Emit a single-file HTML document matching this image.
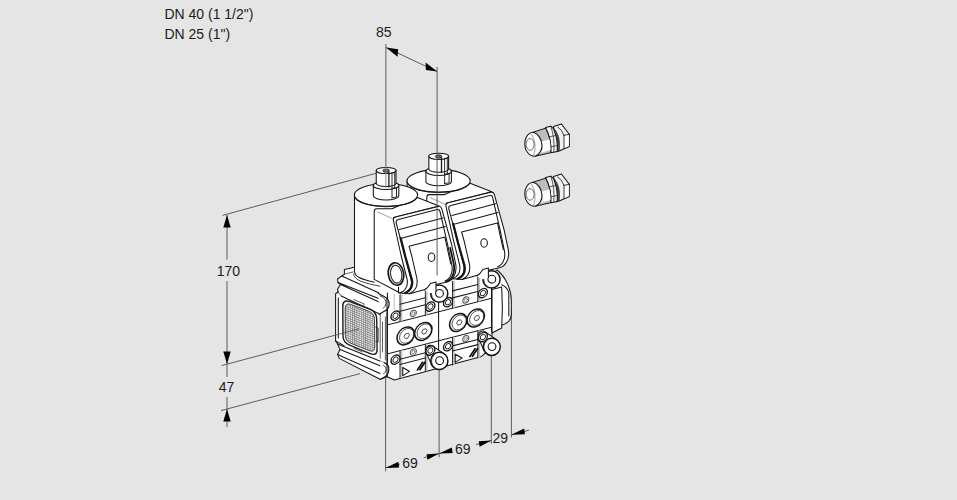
<!DOCTYPE html>
<html>
<head>
<meta charset="utf-8">
<title>Dimensioned drawing</title>
<style>
html,body{margin:0;padding:0;background:#e5e5e5;}
body{width:957px;height:500px;overflow:hidden;font-family:"Liberation Sans",sans-serif;}
svg{display:block;position:absolute;left:0;top:0;}
text{font-family:"Liberation Sans",sans-serif;font-size:14px;fill:#1c1c1c;}
.d{stroke:#5c5c5c;stroke-width:1;fill:none;}
.k{stroke:#151515;stroke-width:1.05;fill:none;stroke-linecap:round;stroke-linejoin:round;}
.w{stroke:#151515;stroke-width:1.05;fill:#fff;stroke-linejoin:round;}
.g{stroke:#777;stroke-width:0.7;fill:none;}
.a{fill:#000;stroke:none;}
</style>
</head>
<body>
<svg width="957" height="500" viewBox="0 0 957 500">
<rect x="0" y="0" width="957" height="500" fill="#e5e5e5"/>

<!-- ===== TEXT ===== -->
<text x="164.4" y="18.6">DN 40 (1 1/2")</text>
<text x="164.4" y="38.8">DN 25 (1")</text>
<text x="376" y="36.8">85</text>
<text x="216.8" y="275.9">170</text>
<text x="218.8" y="391.8">47</text>
<text x="402.2" y="467.6">69</text>
<text x="454.9" y="453.8">69</text>
<text x="492.5" y="442.9">29</text>

<!-- ===== DIMENSION LINES (behind) ===== -->
<g class="d" id="dims">
<line x1="385.9" y1="44" x2="385.9" y2="168"/>
<line x1="386" y1="47.5" x2="437" y2="71.5"/>
<line x1="222.6" y1="215.4" x2="376" y2="173.3"/>
<line x1="227" y1="215" x2="227" y2="259.6"/>
<line x1="227" y1="281" x2="227" y2="377"/>
<line x1="227" y1="397" x2="227" y2="427"/>
<line x1="221.6" y1="365.6" x2="335.2" y2="335.2"/>
<line x1="221" y1="410.6" x2="360" y2="373.6"/>
<line x1="385.6" y1="376" x2="385.6" y2="471.3"/>
<line x1="439.1" y1="368" x2="439.1" y2="457.3"/>
<line x1="491.3" y1="354" x2="491.3" y2="443.7"/>
<line x1="511.4" y1="309" x2="511.4" y2="437.5"/>
<line x1="385.6" y1="467.8" x2="400" y2="464"/>
<line x1="423.7" y1="457.7" x2="451" y2="450.4"/>
<line x1="476" y1="444.6" x2="491.3" y2="440.6"/>
<line x1="511.4" y1="434.8" x2="528.9" y2="430.2"/>
</g>

<!-- ===== VALVE BODY ===== -->
<g id="valve">
<defs>
<pattern id="mesh" width="2.2" height="2.2" patternUnits="userSpaceOnUse" patternTransform="translate(344,302) skewY(21)">
<rect width="2.2" height="2.2" fill="#fff"/>
<path d="M0,0.5 H2.2 M0.5,0 V2.2" stroke="#868686" stroke-width="0.9"/>
</pattern>

<!-- actuator: cylinder + nozzle + connector box/plate (left one coordinates) -->
<g id="act">
<!-- cylinder body -->
<path d="M354.5,195 L354.5,271.5 C354.8,276.5 360,279 374,282.2 L386,284.5 L418,287 L417.6,195 Z" fill="#fff" stroke="none"/>
<path class="k" d="M354.5,195 L354.5,271.5 C354.8,276.5 360,279 374.2,282.2"/>
<!-- box left face + top face -->
<path class="w" d="M374.2,211.5 Q374.2,208.8 377,208.8 L392,208.8 L417.5,197.5 L439,206 L393.5,217.5 L408.5,283 Q409,290 400,293 L398.2,292 L374.2,279.4 Z"/>
<path class="g" d="M377.5,211.8 L392.8,218.8"/>
<ellipse class="w" cx="386" cy="195" rx="31.6" ry="11.2"/>
<path class="k" d="M355.3,198.2 A31.6,11.2 0 0 0 416.7,198.2"/>
<!-- nozzle collar -->
<path class="w" d="M373.3,185.4 V195.6 A12.75,4.4 0 0 0 398.8,195.6 V185.4 Z"/>
<ellipse class="w" cx="386.05" cy="185.4" rx="12.75" ry="4.2"/>
<!-- nozzle upper -->
<path class="w" d="M376.25,170.5 V183.4 A9.9,3.3 0 0 0 396,183.4 V170.5 Z"/>
<ellipse class="w" cx="386.1" cy="170.5" rx="9.9" ry="3.1"/>
<ellipse cx="386.1" cy="170.7" rx="3.3" ry="1.7" fill="#666" stroke="#222" stroke-width="0.8"/>
<path class="k" d="M388.9,172 V186.8" style="stroke-width:1.3"/>
<path class="k" d="M392,172.5 V197.6 M394.7,172.3 V187.4 M392,188.3 L396.5,187.6 V197 L392,197.8" style="stroke-width:0.9"/>
<!-- plate -->
<path class="w" d="M393.4,220.5 Q392.8,217.7 395.6,217 L438.2,206.4 Q441,205.8 441.8,208.8 L451.5,244 L455.3,262 Q457.5,271 453.5,277 Q451,281 447,282 L436,284.5 L425,289.5 L409.5,293.7 L400,293 Q409,289 407,279 L401,255 Z"/>
<path class="k" d="M404,293.3 Q413.5,289.5 411,279 L404.8,255 L396.2,223 Q395.6,220.3 398.4,219.6 L437.2,209.6 Q439.4,209.1 440,211.5 L447.5,244 L451.8,265 Q453.2,272 450,277 Q448,280 445,281"/>
<path class="k" d="M400.6,238 L405.4,257 L411.8,279.5 Q413.8,289 405.5,293" style="stroke-width:2.3"/>
<path class="k" d="M409.5,293.7 Q419,289.5 416.8,278 L411.5,255 L409,246.2 L444.9,237.1 L448.3,253 L450.8,264"/>
<path class="k" d="M398.5,287 V293"/>
<!-- plate lines -->
<path class="k" d="M399.3,229.6 L443,217.9 M402.2,238.1 L445.3,226.6"/>
<ellipse class="k" cx="431.5" cy="257.2" rx="3.3" ry="4.2"/>
</g>

<!-- screw in skewed face coords -->
<g id="scr">
<circle class="w" r="4.5" style="stroke-width:1.4"/>
<circle class="k" r="2.6" style="stroke-width:0.9"/>
</g>
<g id="smc">
<circle class="k" r="3.1" style="stroke:#555"/>
<circle class="k" r="1.6" style="stroke:#555;stroke-width:0.6"/>
</g>
<g id="big">
<circle class="w" r="8.7" style="stroke-width:1.5"/>
<circle class="k" cx="1" cy="0.2" r="7.2" style="stroke-width:0.7"/>
<path class="k" d="M3.6,0.3 L2.3,2.6 L-0.3,2.6 L-1.6,0.3 L-0.3,-2 L2.3,-2 Z" style="stroke-width:0.7"/>
</g>
<g id="lug">
<circle class="w" r="8.6" style="stroke-width:1.5"/>
<path class="k" d="M-5.2,-6 A8,8 0 0 0 -4.6,6.6" style="stroke-width:0.7"/>
<circle class="w" cx="0.3" cy="-0.2" r="3.9" style="stroke-width:1.1"/>
</g>

<!-- half of the front face, in skewed coords (origin = band top-left) -->
<g id="half">
<!-- columns -->
<path d="M14.3,-27 V0 M14.3,29 V56.5 M39.6,-27 V0 M39.6,29 V56.2" stroke="#c4c4c4" stroke-width="2.2" fill="none"/>
<path class="k" d="M13,-27 V0 M13,29 V56.8 M38.3,-27 V0 M38.3,29 V56.2" style="stroke-width:0.9"/>
<path class="k" d="M13,-17.4 H38.3 M13,-10.4 H38.3 M13,37.6 H38.3 M13,42.8 H38.3"/>
<use href="#smc" x="26.3" y="-4.9"/>
<use href="#smc" x="26.3" y="33.8"/>
<use href="#scr" x="8.5" y="-7.2"/>
<use href="#scr" x="43.4" y="-7.4"/>
<use href="#scr" x="8.5" y="36.8"/>
<use href="#scr" x="43.4" y="36.6"/>
<use href="#big" x="18.7" y="15.7"/>
<use href="#big" x="36.3" y="15.7"/>
<!-- triangle + hash -->
<path class="k" d="M15.7,46.6 V54.8 L22.6,52.2 Z"/>
<path d="M30,53.2 L36,45.8 M32.6,53.6 L38.4,46.4" stroke="#0a0a0a" stroke-width="1.9" fill="none"/>
</g>

<!-- cable gland fitting -->
<g id="fit">
<!-- rear hex nut -->
<path class="w" d="M553.5,126.4 L561.4,124 L569.3,134.3 L569.3,146.4 L559.2,150.9 L556,151.7 Z" style="fill:#f1f1f1"/>
<path d="M564.4,136 L568.8,135.2 L568.8,146 L564.4,148 Z" fill="#fff"/>
<path class="k" d="M564,135.3 L564,148.6 M564,135.3 L569.3,134.3 M557.6,126.8 Q561.6,129 564,135.3" style="stroke-width:0.8"/>
<!-- groove -->
<path d="M554,128.6 Q558.8,134 559.4,142 Q559.7,147 559.2,150.9 L557.4,151.4 Q558.6,139 554,128.6 Z" fill="#4a4a4a" stroke="#222" stroke-width="0.6"/>
<!-- nut 1 -->
<path class="w" d="M545.5,127.4 L550.8,126.2 L553.6,128.8 Q558.2,140 557.2,151.6 L550.8,152.7 Q551.6,139 545.5,127.4 Z" style="fill:#f4f4f4"/>
<path class="k" d="M549.6,136.8 L555.8,135.4 M551,146.8 L556.6,145.6 M550.8,126.2 Q555,138 553.8,152.2" style="stroke-width:0.7"/>
<!-- knurled section -->
<path d="M533.2,132.2 L545.5,128.2 Q551.6,139 550.8,152.7 L535.4,156.2 Z" fill="#bdbdbd" stroke="#151515" stroke-width="1"/>
<path d="M541.6,141.6 L549.6,139.4 Q550.6,145 550.5,150 L542,152.4 Q543,147 541.6,141.6 Z" fill="#fdfdfd"/>
<path d="M536,139.5 L541.4,141.6 Q543,147 542,152.4 L538,153.6 Q541,147 536,139.5 Z" fill="#efefef"/>
<!-- dome -->
<path d="M533.2,132.3 C527.4,132.8 524.8,138.6 524.8,143.9 C524.8,150.4 528.6,156.2 535.2,156.2 C540,154.4 542.3,149.4 542,145 C541.6,139 538.2,133.6 533.2,132.3 Z" fill="#fbfbfb" stroke="#151515" stroke-width="1.1"/>
<path d="M531,133.6 Q537.6,143 533.6,155.6" fill="none" stroke="#8a8a8a" stroke-width="0.8"/>
<ellipse cx="530.1" cy="144.4" rx="4" ry="5.8" fill="#fff" stroke="#444" stroke-width="0.8"/>
</g>
</defs>

<!-- ===== right end cap ===== -->
<path class="w" d="M497,270 C506,277 511.3,290 511.3,300 L511.3,314.5 C511.3,320 507,323.5 502,325 L492,333 L488,280 Z"/>
<path class="k" d="M501.7,284.7 C505,286 508,289.5 508.8,293 L508.8,316"/>

<!-- ===== lower body silhouette ===== -->
<path class="w" d="M372,280 L400,290 L491.5,269 L492,333 L491.7,347 L481.6,356.4 L394.4,380 L385.6,376 Z"/>

<!-- ===== flange (left) ===== -->
<path d="M344.4,269.6 L356,267 L386,286 L387.4,300 L387.4,372.5 Q388.5,377 380,379.2 L339.2,358.4 L337.6,354.4 L340,349.6 L337.6,344 L335.6,341 L335.6,293.8 L338.2,292 L337.5,289.5 L340.5,284.6 L338,282.5 L337.5,279 L341.8,276 L344.4,274.2 Z" fill="#fff" stroke="none"/>
<path class="k" d="M387.4,293 V372.5 Q388.5,377 380,379.2 L339.2,358.4 L337.6,354.4 L340,349.6 L337.6,344 L335.6,341 L335.6,293.8 L338.2,292 L337.5,289.5 L340.5,284.6 L338,282.5 L337.5,279 L341.8,276 L344.4,274.2 L344.4,269.6 L354.2,267.2"/>
<path class="k" d="M345,274 L353,272 M338.2,292 L341.2,296" style="stroke-width:0.7"/>
<path class="k" d="M341.8,276 L378.5,292.8 M338,282.5 L385,301 M340.5,284.6 L384.6,304.4 M341.2,296 L380.2,314.2"/>
<path d="M378.3,293.5 L383.7,296.2 Q389.6,299 389.1,304.3 Q388.8,309 385.5,310.6 L379.2,314.2 Z" fill="#fff" stroke="none"/>
<path class="k" d="M378.3,293.5 L383.7,296.2 Q389.6,299 389.1,304.3 Q388.8,309 385.5,310.6 L379.2,314.2" style="stroke-width:1.2"/>
<path class="k" d="M380.1,295.8 Q386.6,298.6 386,303.4 Q385.6,306.6 383.3,308.2" style="stroke-width:0.8"/>
<path class="k" d="M353.5,274 Q354,278.4 361,281.4 Q368,284 380,286.2" style="stroke-width:0.8"/>
<path class="k" d="M338.3,298 V338 M335.6,341 L344,345.6"/>
<g transform="translate(-0.8,-1.6)">
<!-- mesh -->
<path d="M343.6,308.5 Q343.4,300.6 350.6,303.2 L370.4,310.6 Q377.4,313.3 377.5,320.5 L377.9,350.5 Q378,358 371,355.2 L350.4,346.8 Q343.9,344.2 343.8,337.4 Z" fill="#fff" stroke="#1c1c1c" stroke-width="1.4"/>
<path d="M346,309.8 Q345.9,304 351.6,306 L369.2,312.6 Q375.2,314.9 375.3,320.9 L375.6,348.4 Q375.7,354.4 369.9,352.2 L351.4,344.8 Q346.2,342.6 346.1,336.9 Z" fill="url(#mesh)" stroke="#333" stroke-width="0.9"/>
<path class="k" d="M354.5,301.2 L364.9,305.4 L364.6,307 M376.6,328.8 L379,329.6 V343.6 L376.8,343 M355,350 L363,353.6" style="stroke-width:0.7"/>
</g>
<line x1="335.2" y1="335.2" x2="359" y2="328.8" stroke="#5a5a5a" stroke-width="0.9"/>
<!-- strip right of mesh -->
<path class="k" d="M380.2,314.2 V358.3 M385.4,317 V360 M382.5,322 V352" style="stroke-width:0.7"/>
<!-- lower rails -->
<path class="k" d="M337.6,344 L384.8,362.9 M340,349.6 L385.6,368 M337.6,354.4 L384,375.2"/>
<path d="M380,360.8 L384.4,362.8 Q389.4,365 388.8,369.6 Q388.4,374.6 385.4,376.4 L380.6,379.2 Z" fill="#fff" stroke="none"/>
<path class="k" d="M384.4,362.8 Q389.4,365 388.8,369.6 Q388.4,374.6 385.4,376.4 L380.6,379.2" style="stroke-width:1.2"/>
<path class="k" d="M383.6,365.4 Q386.6,366.8 386.2,369.8 Q385.8,372.6 383.6,373.8" style="stroke-width:0.8"/>

<!-- ===== front face (skewed) ===== -->
<g transform="translate(387,325) skewY(-14.33)">
<path class="k" d="M0,-27 V52.5 M0,0 H104.5 M0,29 H104.5 M51.6,-20 V29 M51.6,29 V45 M104.5,-10 V33"/>
<path d="M7.2,-29 V-13" stroke="#999" stroke-width="0.6" fill="none"/>
<use href="#half"/>
<use href="#half" x="52.5"/>
</g>

<!-- ===== right column (end) ===== -->
<path class="w" d="M492,289.5 L501.7,287 Q503,308 501.7,328 L492,333 Z"/>

<!-- ===== actuators ===== -->
<use href="#act" transform="translate(52.6,-14.2)"/>
<use href="#act"/>
<path class="k" d="M450.2,248 L453.6,263 Q455.4,272 451.8,277.4 Q449.6,280.6 446,281.6" style="stroke-width:1.8"/>
<g transform="rotate(-9 396 274)">
<ellipse class="w" cx="396" cy="274" rx="7.7" ry="11.3" style="stroke-width:1.7"/>
<ellipse class="k" cx="396.2" cy="274.2" rx="5.6" ry="9"/>
</g>

<!-- box top of right actuator joins (edge from ellipse to plate corner) -->

<!-- ===== tabs + lugs ===== -->
<use href="#lug" x="439.2" y="293.6"/>
<use href="#lug" x="491.5" y="279.4"/>
<path d="M424.5,290.5 L427.5,287.8 L430.5,283.5 L436,282 L436,290.3 L434.8,292.6 L430.1,293.2 Z" fill="#fff" stroke="none"/>
<path class="k" d="M424.5,290 Q427.5,288.4 430.5,283.5 L436,282 L436,291.5"/>
<path d="M476.9,276.5 L479.9,273.8 L482.9,269.5 L488.4,268 L488.4,276.3 L487.2,278.6 L482.5,279.2 Z" fill="#fff" stroke="none"/>
<path class="k" d="M476.9,276 Q479.9,274.4 482.9,269.5 L488.4,268 L488.4,277.5"/>
<!-- lower lugs with arm to screw -->
<path class="w" d="M431.5,364.4 L426,352.4 A4.8,4.8 0 0 1 433.1,346.4 L444.1,353.7 Z"/>
<path class="w" d="M483.8,350.2 L478.5,337.9 A4.8,4.8 0 0 1 485.7,332.1 L496.6,339.8 Z"/>
<use href="#lug" x="439.3" y="360.9"/>
<use href="#lug" x="491.7" y="346.8"/>
<g transform="translate(387,325) skewY(-14.33)">
<use href="#scr" x="43.4" y="36.6"/>
<use href="#scr" x="95.9" y="36.6"/>
</g>

<!-- ===== fittings ===== -->
<use href="#fit"/>
<use href="#fit" y="50"/>

</g>

<!-- dim line passing in front -->
<line class="d" x1="385.9" y1="167" x2="385.9" y2="188" style="stroke:#888"/>
<line class="d" x1="437.1" y1="67" x2="437.1" y2="275.5"/>

<!-- ===== ARROWHEADS ===== -->
<g class="a">
<polygon points="386,47.4 398.1,49.2 397.6,56.8"/>
<polygon points="437.2,71.4 425.6,62.6 425.9,69.9"/>
<polygon points="227,215 223.3,227.6 230.7,227.6"/>
<polygon points="227,364 223.3,351.4 230.7,351.4"/>
<polygon points="227,409 223.3,421.6 230.7,421.6"/>
<polygon points="385.6,468 398.3,461.8 399.2,467.4"/>
<polygon points="439.1,453.6 426.6,454.2 427.4,459.8"/>
<polygon points="439.1,453.6 451.8,447.4 452.7,453.0"/>
<polygon points="491.3,440.6 478.8,441.2 479.6,446.8"/>
<polygon points="511.4,434.8 524.1,428.6 525.0,434.2"/>
</g>
</svg>
</body>
</html>
